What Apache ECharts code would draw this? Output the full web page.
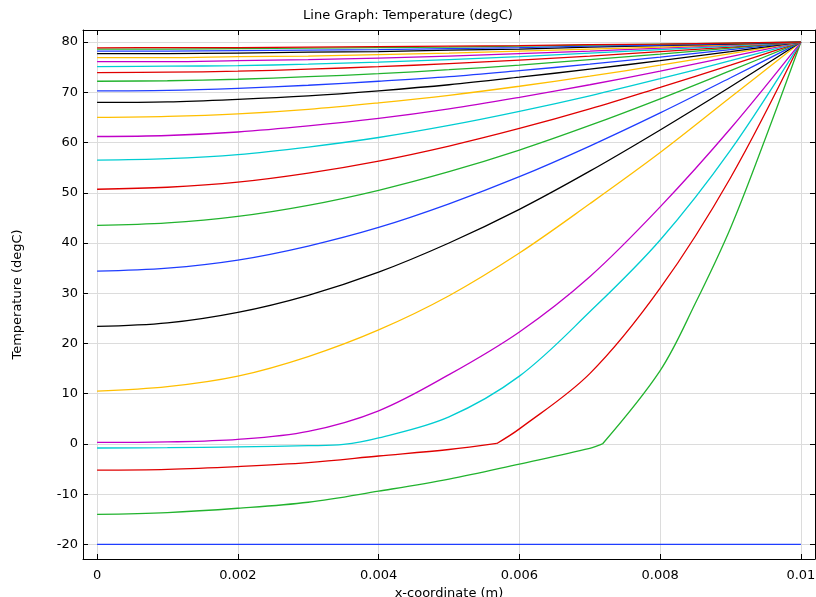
<!DOCTYPE html>
<html lang="en">
<head>
	<meta charset="UTF-8">
	<title>Line Graph: Temperature (degC)</title>
	<script src="https://cdn.jsdelivr.net/npm/echarts@6/dist/echarts.min.js"></script>
	<style>
		html, body { margin: 0; padding: 0; background: #fff; }
		#chart { width: 816px; height: 597px; }
	</style>
</head>
<body>
<div id="chart"></div>
<script>
    // x positions (m) shared by most curves
    var xs = [0, 0.001, 0.002, 0.003, 0.004, 0.005, 0.006, 0.007, 0.008, 0.009, 0.01];

    // curves with a kink at the freezing point get their own x positions
    var xs02 = [0, 0.001, 0.002, 0.003, 0.004, 0.005, 0.006, 0.007, 0.00718, 0.008, 0.0085, 0.009, 0.0095, 0.01];
    var xs03 = [0, 0.001, 0.002, 0.003, 0.004, 0.005, 0.00568, 0.006, 0.007, 0.008, 0.009, 0.01];
    var xs04 = [0, 0.001, 0.002, 0.003, 0.0035, 0.004, 0.005, 0.006, 0.007, 0.008, 0.009, 0.01];

    // temperatures (degC), one array per time step
    var t01 = [-20, -20, -20, -20, -20, -20, -20, -20, -20, -20, -20];
    var t02 = [-14, -13.65, -12.8, -11.6, -9.4, -7.0, -4.0, -0.9, 0, 14.6, 28, 43, 61, 80];
    var t03 = [-5.2, -5.05, -4.5, -3.7, -2.4, -1.1, 0.1, 3.0, 14, 31, 53, 80];
    var t04 = [-0.8, -0.75, -0.6, -0.35, -0.1, 1.2, 5.4, 13.5, 26.3, 40.6, 58.5, 80];
    var t05 = [0.3, 0.4, 0.9, 2.5, 6.6, 13.8, 22.3, 33.3, 47.2, 62.8, 80];
    var t06 = [10.5, 11.4, 13.5, 17.4, 22.7, 29.5, 38.0, 47.8, 58.0, 69.0, 80];
    var t07 = [23.4, 24.1, 26.2, 29.6, 34.2, 40.0, 46.7, 54.3, 62.5, 71.1, 80];
    var t08 = [34.4, 35.0, 36.6, 39.4, 43.1, 47.8, 53.2, 59.3, 65.9, 72.9, 80];
    var t09 = [43.5, 44.0, 45.3, 47.5, 50.5, 54.2, 58.5, 63.4, 68.7, 74.3, 80];
    var t10 = [50.7, 51.1, 52.1, 53.9, 56.3, 59.3, 62.8, 66.7, 71.0, 75.4, 80];
    var t11 = [56.5, 56.8, 57.6, 59.1, 61.0, 63.4, 66.2, 69.3, 72.7, 76.3, 80];
    var t12 = [61.2, 61.4, 62.1, 63.3, 64.8, 66.7, 69.0, 71.5, 74.2, 77.1, 80];
    var t13 = [65, 65.2, 65.7, 66.6, 67.9, 69.4, 71.2, 73.2, 75.4, 77.7, 80];
    var t14 = [68, 68.1, 68.6, 69.3, 70.3, 71.5, 73.0, 74.6, 76.3, 78.1, 80];
    var t15 = [70.3, 70.4, 70.8, 71.4, 72.2, 73.1, 74.3, 75.6, 77.0, 78.5, 80];
    var t16 = [72.2, 72.3, 72.6, 73.1, 73.7, 74.5, 75.4, 76.5, 77.6, 78.8, 80];
    var t17 = [73.9, 74.0, 74.2, 74.6, 75.1, 75.7, 76.4, 77.2, 78.1, 79.0, 80];
    var t18 = [75.1, 75.2, 75.3, 75.6, 76.0, 76.5, 77.1, 77.8, 78.5, 79.2, 80];
    var t19 = [76.1, 76.1, 76.3, 76.5, 76.8, 77.2, 77.7, 78.2, 78.8, 79.4, 80];
    var t20 = [76.9, 76.9, 77.1, 77.2, 77.5, 77.8, 78.2, 78.6, 79.0, 79.5, 80];
    var t21 = [77.7, 77.7, 77.8, 78.0, 78.1, 78.4, 78.6, 79.0, 79.3, 79.6, 80];
    var t22 = [78.2, 78.2, 78.3, 78.4, 78.5, 78.7, 78.9, 79.2, 79.4, 79.7, 80];
    var t23 = [78.6, 78.6, 78.7, 78.8, 78.9, 79.0, 79.2, 79.4, 79.6, 79.8, 80];
    var t24 = [78.85, 78.9, 78.9, 79.0, 79.1, 79.2, 79.3, 79.5, 79.6, 79.8, 80];

    // color cycle: blue, green, red, cyan, magenta, yellow, black
    var palette = ['#1f3dff', '#22b32e', '#e00000', '#00cdd2', '#c000c8', '#ffbf00', '#000000'];

    // [x array, temperature array, kink index or -1]
    var curves = [
        [xs, t01, -1], [xs02, t02, 8], [xs03, t03, 6], [xs04, t04, -1],
        [xs, t05, -1], [xs, t06, -1], [xs, t07, -1], [xs, t08, -1],
        [xs, t09, -1], [xs, t10, -1], [xs, t11, -1], [xs, t12, -1],
        [xs, t13, -1], [xs, t14, -1], [xs, t15, -1], [xs, t16, -1],
        [xs, t17, -1], [xs, t18, -1], [xs, t19, -1], [xs, t20, -1],
        [xs, t21, -1], [xs, t22, -1], [xs, t23, -1], [xs, t24, -1]
    ];

    function pairs(x, y, from, to) {
        var out = [];
        for (var i = from; i <= to; i++) out.push([x[i], y[i]]);
        return out;
    }

    function lineSeries(data, color) {
        return {
            type: 'line',
            data: data,
            smooth: 0.35,
            showSymbol: false,
            animation: false,
            lineStyle: { color: color, width: 1.3 }
        };
    }

    var series = [];
    curves.forEach(function (c, i) {
        var color = palette[i % palette.length];
        var n = c[1].length - 1;
        if (c[2] > 0) {
            // two pieces so the kink stays sharp
            series.push(lineSeries(pairs(c[0], c[1], 0, c[2]), color));
            series.push(lineSeries(pairs(c[0], c[1], c[2], n), color));
        } else {
            series.push(lineSeries(pairs(c[0], c[1], 0, n), color));
        }
    });

    var font = 'DejaVu Sans';
    var boxLine = { show: true, onZero: false, lineStyle: { color: '#000', width: 1 } };
    var tick = { show: true, inside: true, length: 5, lineStyle: { color: '#000' } };
    var grid = { show: true, lineStyle: { color: '#dcdcdc', width: 1 } };

    var myChart = echarts.init(document.getElementById('chart'));
    myChart.setOption({
        backgroundColor: '#fff',
        title: {
            text: 'Line Graph: Temperature (degC)',
            left: 'center',
            top: 4,
            textStyle: { fontFamily: font, fontSize: 13, fontWeight: 'normal', color: '#000' }
        },
        grid: { left: 83, top: 30, width: 732, height: 529, outerBoundsMode: 'none', containLabel: false },
        xAxis: [{
            type: 'value', position: 'bottom',
            min: -0.0002, max: 0.0102, splitNumber: 5,
            name: 'x-coordinate (m)', nameLocation: 'middle', nameGap: 13,
            nameTextStyle: { fontFamily: font, fontSize: 13, color: '#000' },
            axisLine: boxLine, axisTick: tick, splitLine: grid,
            axisLabel: {
                fontFamily: font, fontSize: 13, color: '#000', margin: 10,
                showMinLabel: false, showMaxLabel: false,
                formatter: function (v) { return String(+v.toFixed(4)); }
            }
        }, {
            type: 'value', position: 'top',
            min: -0.0002, max: 0.0102, splitNumber: 5,
            axisLine: boxLine, axisTick: tick,
            axisLabel: { show: false }, splitLine: { show: false }
        }],
        yAxis: [{
            type: 'value', position: 'left',
            min: -22.9, max: 82.4, splitNumber: 10,
            name: 'Temperature (degC)', nameLocation: 'middle', nameGap: 59,
            nameTextStyle: { fontFamily: font, fontSize: 13, color: '#000' },
            axisLine: boxLine, axisTick: tick, splitLine: grid,
            axisLabel: {
                fontFamily: font, fontSize: 13, color: '#000', margin: 5,
                showMinLabel: false, showMaxLabel: false
            }
        }, {
            type: 'value', position: 'right',
            min: -22.9, max: 82.4, splitNumber: 10,
            axisLine: boxLine, axisTick: tick,
            axisLabel: { show: false }, splitLine: { show: false }
        }],
        series: series
    });
</script>
</body>
</html>
